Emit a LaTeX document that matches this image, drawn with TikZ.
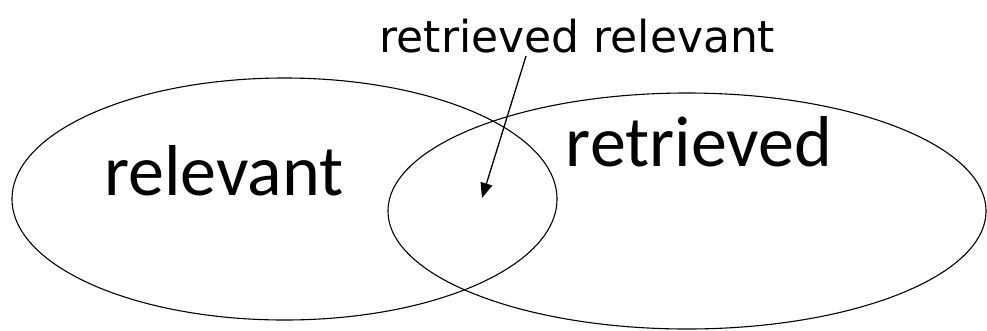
\documentclass[tikz,border=0pt]{standalone}
\usepackage{fontspec}
\setmainfont{Carlito}
\newfontfamily\verafont{DejaVu Sans}
\usepackage{tikz}
\usetikzlibrary{arrows.meta,positioning,shapes.geometric}

\begin{document}
\begin{tikzpicture}[x=1pt,y=-1pt,
  set/.style={ellipse,draw=black,line width=1.1pt,inner sep=0pt},
  big/.style={font=\fontsize{72}{80}\selectfont,anchor=base,inner sep=0pt},
  small/.style={font=\verafont\fontsize{44}{50}\selectfont,anchor=base,inner sep=0pt},
  arr/.style={-{Triangle[length=15pt,width=12pt]},draw=black,line width=1.3pt}]
  \useasboundingbox (0,0) rectangle (987,330);
  % the two sets
  \node[set,minimum width=545pt,minimum height=242pt] (rel) at (284.5,199) {};
  \node[set,minimum width=598pt,minimum height=236pt] (ret) at (687,211) {};
  % labels
  \node[big] (rellbl) at (224,195) {relevant};
  \node[big] (retlbl) at (699,166) {retrieved};
  \node[small] (both) at (577.5,52) {retrieved relevant};
  % pointer into the overlap
  \coordinate (from) at (526,56);
  \coordinate (tip) at (482,198);
  \draw[arr] (from) -- (tip);
\end{tikzpicture}
\end{document}
